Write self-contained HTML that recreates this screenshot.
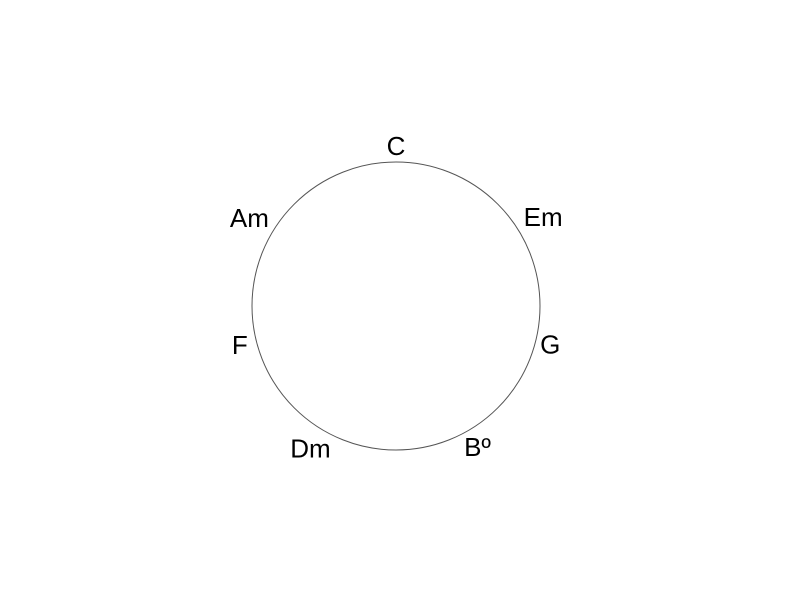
<!DOCTYPE html>
<html><head><meta charset="utf-8"><style>
body{margin:0;background:#fff;}
svg{display:block;}
text{font-family:"Liberation Sans",sans-serif;font-size:26px;fill:#000;}
</style></head><body>
<svg id="chart" width="792" height="612" viewBox="0 0 792 612">
<circle cx="396" cy="306" r="144" fill="none" stroke="#555" stroke-width="1"/>
</svg>
<script>
const chords = ["C","Em","G","B\u00BA","Dm","F","Am"];
const labelAngles = [0, 58.8, 104, 150, 211, 256, 301];
const labelRadii = [160, 172, 159, 163, 166, 161, 171];
const svg = document.getElementById('chart');
const cx = 396, cy = 306;
chords.forEach((c, i) => {
  const a = labelAngles[i] * Math.PI / 180;
  const x = cx + labelRadii[i] * Math.sin(a), y = cy - labelRadii[i] * Math.cos(a);
  const t = document.createElementNS('http://www.w3.org/2000/svg', 'text');
  t.setAttribute('x', x);
  t.setAttribute('y', y + 9);
  t.setAttribute('text-anchor', 'middle');
  t.textContent = c;
  
  
  svg.appendChild(t);
});
</script>
</body></html>
